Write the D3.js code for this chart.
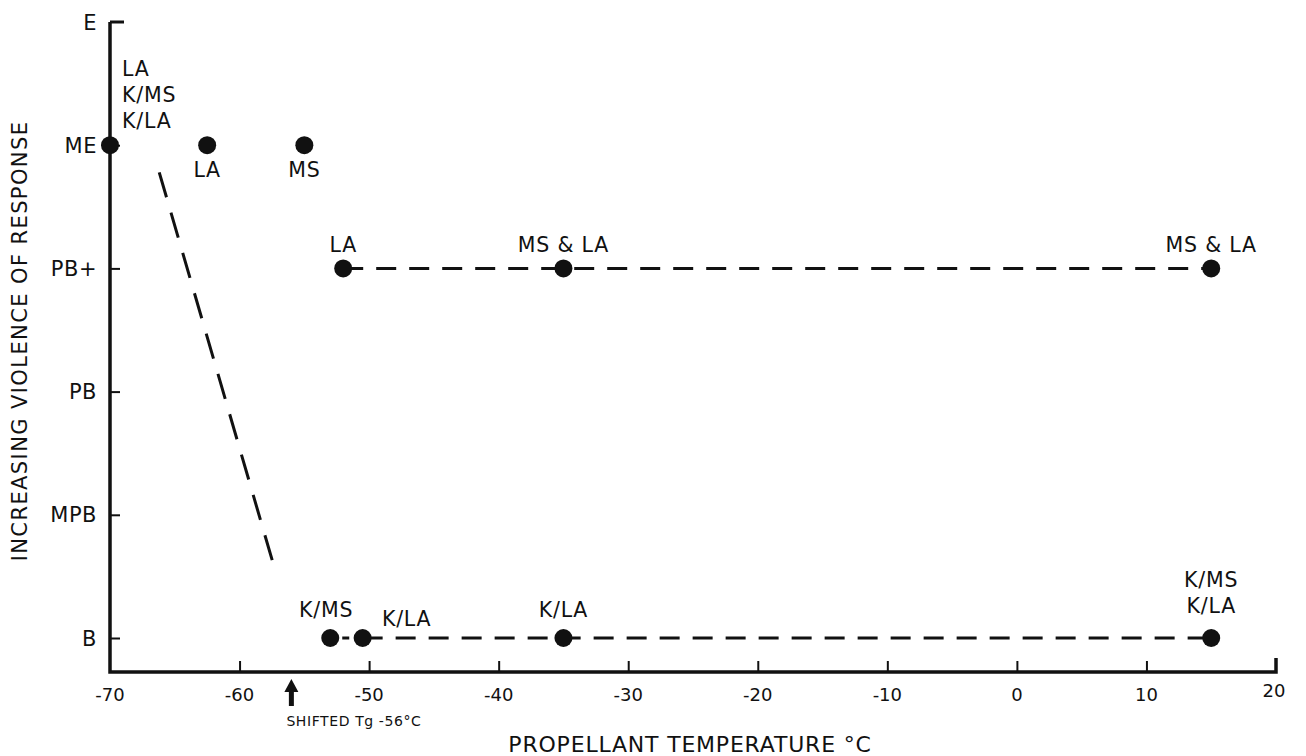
<!DOCTYPE html>
<html>
<head>
<meta charset="utf-8">
<script src="https://cdn.jsdelivr.net/npm/d3@7"></script>
<style>
  html, body { margin: 0; padding: 0; background: #fff; }
  svg { display: block; }
  text { font-family: "DejaVu Sans", "Liberation Sans", sans-serif; fill: #111; }
</style>
</head>
<body>
<svg id="chart" width="1306" height="756"></svg>
<script>
// Response levels, least to most violent
const levels = ["B", "MPB", "PB", "PB+", "ME", "E"];
const xTicks = [-70, -60, -50, -40, -30, -20, -10, 0, 10, 20];

// Observed responses: temperature (°C), response level, label lines
const pointTemps  = [-70, -62.5, -55, -52, -35, 15, -53, -50.5, -35, 15];
const pointLevels = ["ME", "ME", "ME", "PB+", "PB+", "PB+", "B", "B", "B", "B"];
const pointLabels = [
  ["LA", "K/MS", "K/LA"], ["LA"], ["MS"], ["LA"], ["MS & LA"], ["MS & LA"],
  ["K/MS"], ["K/LA"], ["K/LA"], ["K/MS", "K/LA"]
];
const labelPos = ["upright", "below", "below", "above", "above", "above", "aboveleft", "aboveright", "above", "above"];

// Dashed trend lines: [temp, level-value] pairs
const upperLine = [[-52, 3], [15, 3]];
const lowerLine = [[-50.5, 0], [15, 0]];
const transition = [[-66.2, 3.78], [-57.2, 0.53]];

const shiftedTg = -56;

const svg = d3.select("#chart");
const plotLeft = 110, plotRight = 1276, plotTop = 22, plotBottom = 638, axisY = 672;

const x = d3.scaleLinear().domain([-70, 20]).range([plotLeft, plotRight]);
const y = d3.scaleLinear().domain([0, levels.length - 1]).range([plotBottom, plotTop]);
const yl = l => y(levels.indexOf(l));

const label = (sel, size, spacing) => sel.attr("font-size", size).attr("letter-spacing", spacing);

// Axes
const ax = svg.append("g").attr("stroke", "#111").attr("fill", "none");
ax.append("path")
  .attr("d", `M${plotLeft},${plotTop} L${plotLeft},${axisY} L${plotRight},${axisY} L${plotRight},${axisY - 14}`)
  .attr("stroke-width", 3.5);
ax.append("line").attr("x1", plotLeft).attr("x2", plotLeft + 14).attr("y1", plotTop).attr("y2", plotTop).attr("stroke-width", 3);

const yAxis = d3.axisRight(y).tickValues(d3.range(0, levels.length - 1)).tickSize(10).tickFormat("");
svg.append("g").attr("transform", `translate(${plotLeft},0)`).call(yAxis)
  .call(g => g.select(".domain").remove())
  .call(g => g.selectAll("line").attr("stroke", "#111").attr("stroke-width", 2));

levels.forEach((l, i) => {
  svg.append("text").attr("x", 97).attr("y", y(i)).attr("dy", "0.36em")
    .attr("text-anchor", "end").call(label, 21, 0.5).text(l);
});

const xAxis = d3.axisTop(x).tickValues(xTicks.slice(1, -1)).tickSize(11).tickFormat("");
svg.append("g").attr("transform", `translate(0,${axisY})`).call(xAxis)
  .call(g => g.select(".domain").remove())
  .call(g => g.selectAll("line").attr("stroke", "#111").attr("stroke-width", 2));

xTicks.forEach(t => {
  svg.append("text").attr("x", x(t) + (t === 20 ? -2 : 0)).attr("y", t === 20 ? 697 : 701)
    .attr("text-anchor", "middle").call(label, 18, 0).text(t);
});

// Axis titles
svg.append("text").attr("transform", `translate(27,341) rotate(-90)`)
  .attr("text-anchor", "middle").call(label, 21, 1.4).text("INCREASING VIOLENCE OF RESPONSE");
svg.append("text").attr("x", 690).attr("y", 752)
  .attr("text-anchor", "middle").call(label, 22, 0.8).text("PROPELLANT TEMPERATURE °C");

// Shifted Tg marker
const ar = svg.append("g").attr("transform", `translate(${x(shiftedTg)},0)`);
ar.append("path").attr("d", "M-7,692 L0,679 L7,692 L2.5,692 L2.5,706 L-2.5,706 L-2.5,692 Z").attr("fill", "#111");
svg.append("text").attr("x", x(shiftedTg) - 5).attr("y", 726).call(label, 14, 0.6).text("SHIFTED Tg -56°C");

// Dashed lines
const line = d3.line().x(d => x(d[0])).y(d => y(d[1]));
svg.append("path").attr("d", line(upperLine)).attr("stroke", "#111").attr("stroke-width", 3)
  .attr("stroke-dasharray", "20 13").attr("fill", "none");
svg.append("path").attr("d", line(lowerLine)).attr("stroke", "#111").attr("stroke-width", 3)
  .attr("stroke-dasharray", "20 13").attr("fill", "none");
svg.append("path").attr("d", line([[-53, 0], [-50.5, 0]])).attr("stroke", "#111").attr("stroke-width", 3)
  .attr("stroke-dasharray", "7 20").attr("stroke-dashoffset", -12).attr("fill", "none");
svg.append("path").attr("d", line(transition)).attr("stroke", "#111").attr("stroke-width", 3)
  .attr("stroke-dasharray", "26 16").attr("fill", "none");

// Points and labels
pointTemps.forEach((t, i) => {
  const cx = x(t), cy = yl(pointLevels[i]);
  svg.append("circle").attr("cx", cx).attr("cy", cy).attr("r", 9).attr("fill", "#111");
  const lines = pointLabels[i];
  const pos = labelPos[i];
  let tx = cx, anchor = "middle", y0;
  if (pos === "below") y0 = cy + 32;
  else if (pos === "upright") { tx = cx + 12; anchor = "start"; y0 = cy - 69; }
  else if (pos === "aboveleft") { tx = cx - 4; y0 = cy - 21; }
  else if (pos === "aboveright") { tx = cx + 44; y0 = cy - 12; }
  else if (lines.length > 1) y0 = cy - 25 - (lines.length - 1) * 26;
  else y0 = cy - (pointLevels[i] === "B" ? 21 : 16);
  lines.forEach((s, k) => {
    svg.append("text").attr("x", tx).attr("y", y0 + k * 26).attr("text-anchor", anchor)
      .call(label, 20.5, 0.8).text(s);
  });
});
</script>
</body>
</html>
